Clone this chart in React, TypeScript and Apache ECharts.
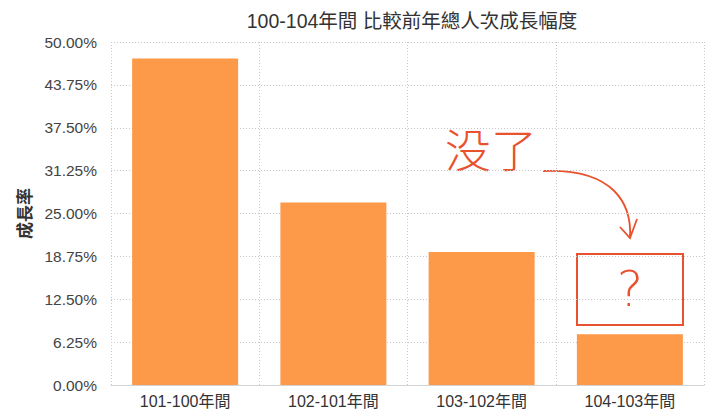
import { useEffect, useRef } from 'react'
import * as echarts from 'echarts'

const periods = ['101-100年間', '102-101年間', '103-102年間', '104-103年間']
const growthRates = [47.6, 26.6, 19.4, 7.4]
const yTicks = { min: 0, max: 50, step: 6.25 }

const FONT = '"Liberation Sans", "Noto Sans CJK TC", sans-serif'
const RED = '#e8522f'

export default function App() {
  const ref = useRef<HTMLDivElement>(null)

  useEffect(() => {
    if (!ref.current) return
    const chart = echarts.init(ref.current, undefined, { renderer: 'svg' })

    chart.setOption({
      animation: false,
      backgroundColor: '#fff',
      textStyle: { fontFamily: FONT },
      title: {
        text: '100-104年間 比較前年總人次成長幅度',
        left: 407,
        textAlign: 'center',
        top: 6,
        textStyle: { fontFamily: FONT, fontSize: 19.5, fontWeight: 'normal', color: '#333' },
      },
      grid: { left: 111, right: 17, top: 42, bottom: 34 },
      xAxis: {
        type: 'category',
        data: periods,
        axisLine: { lineStyle: { color: '#d4d4d4' } },
        axisTick: { show: false },
        axisLabel: { color: '#333', fontSize: 16, margin: 8, fontFamily: FONT },
        splitLine: { show: true, lineStyle: { color: '#c8c8c8', type: [1, 2] } },
      },
      yAxis: {
        type: 'value',
        min: yTicks.min,
        max: yTicks.max,
        interval: yTicks.step,
        name: '成長率',
        nameLocation: 'middle',
        nameGap: 74,
        nameRotate: 90,
        nameTextStyle: { fontSize: 17, fontWeight: 'bold', color: '#333', fontFamily: FONT },
        axisLine: { show: false },
        axisTick: { show: false },
        axisLabel: {
          color: '#444',
          fontSize: 15.5,
          margin: 14,
          fontFamily: FONT,
          formatter: (v: number) => v.toFixed(2) + '%',
        },
        splitLine: { show: true, lineStyle: { color: '#c8c8c8', type: [1, 2] } },
      },
      series: [
        {
          type: 'bar',
          data: growthRates,
          barWidth: 106,
          itemStyle: { color: '#fd9a4a' },
        },
      ],
      graphic: [
        {
          type: 'text',
          left: 445,
          top: 124,
          style: {
            text: '没了',
            fontSize: 46,
            fontFamily: '"Noto Sans CJK SC", sans-serif',
            fontWeight: 200,
            fill: RED,
          },
        },
        {
          type: 'bezierCurve',
          shape: { x1: 543, y1: 171, cpx1: 615, cpy1: 168, cpx2: 632, cpy2: 205, x2: 630, y2: 238 },
          style: { stroke: RED, lineWidth: 1.8, fill: 'none' },
        },
        {
          type: 'polyline',
          shape: { points: [[620, 227], [630, 238], [637, 219]] },
          style: { stroke: RED, lineWidth: 1.8, fill: 'none' },
        },
        {
          type: 'rect',
          shape: { x: 577, y: 254, width: 106, height: 71 },
          style: { stroke: RED, lineWidth: 2, fill: 'none' },
        },
        {
          type: 'text',
          x: 630,
          y: 289,
          style: {
            text: '?',
            fontSize: 50,
            fontFamily: '"DejaVu Sans", sans-serif',
            fontWeight: 200,
            fill: RED,
            align: 'center',
            verticalAlign: 'middle',
          },
        },
      ],
    })

    return () => chart.dispose()
  }, [])

  return <div ref={ref} style={{ position: 'fixed', left: 0, top: 0, width: 721, height: 419 }} />
}
